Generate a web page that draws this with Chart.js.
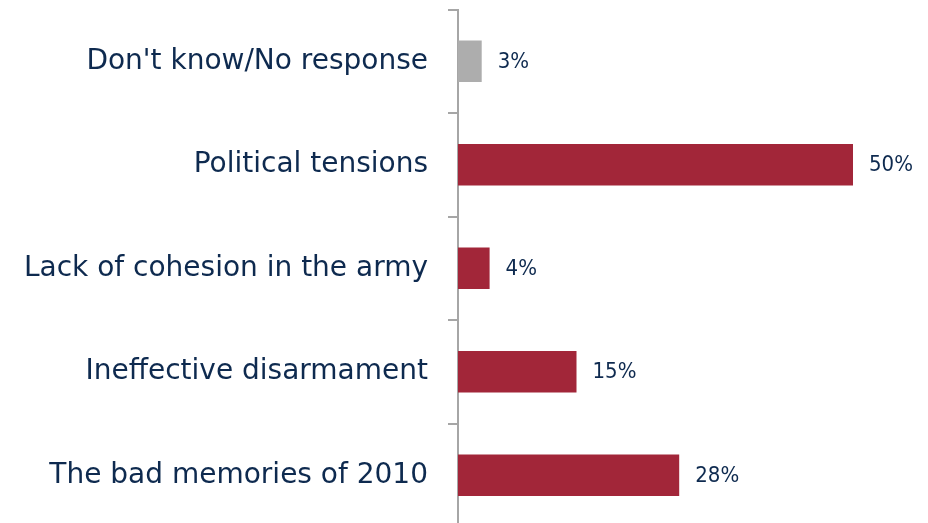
<!DOCTYPE html>
<html>
<head>
<meta charset="utf-8">
<script src="https://cdn.jsdelivr.net/npm/chart.js@4/dist/chart.umd.min.js"></script>
<style>
  html, body { margin: 0; padding: 0; background: #fff; overflow: hidden; }
  #wrap { position: relative; width: 928px; height: 527px; }
</style>
</head>
<body>
<div id="wrap"><canvas id="c"></canvas></div>
<script>
const categories = ["Don't know/No response", "Political tensions", "Lack of cohesion in the army", "Ineffective disarmament", "The bad memories of 2010"];
const values = [3, 50, 4, 15, 28];
const valueSuffix = "%";
const neutralCategory = "Don't know/No response";

const RED = '#A22639';
const GRAY = '#ADADAD';
const TEXT = '#0E2A4F';
const AXIS = '#A6A6A6';
const FONT = "'DejaVu Sans', sans-serif";
const VFONT = "'DejaVu Sans Condensed', 'DejaVu Sans', sans-serif";

const valueLabels = {
  id: 'valueLabels',
  afterDatasetsDraw(chart) {
    const ctx = chart.ctx;
    const meta = chart.getDatasetMeta(0);
    ctx.save();
    ctx.fillStyle = TEXT;
    ctx.font = "22px " + VFONT;
    ctx.textAlign = 'left';
    ctx.textBaseline = 'middle';
    meta.data.forEach((bar, i) => {
      ctx.fillText(values[i] + valueSuffix, bar.x + 16, bar.y + 1);
    });
    ctx.restore();
  }
};

new Chart(document.getElementById('c'), {
  type: 'bar',
  data: {
    labels: categories,
    datasets: [{
      data: values,
      backgroundColor: categories.map(c => c === neutralCategory ? GRAY : RED),
      borderWidth: 0,
      barPercentage: 0.4,
      categoryPercentage: 1.0
    }]
  },
  options: {
    indexAxis: 'y',
    responsive: true,
    maintainAspectRatio: false,
    animation: false,
    layout: { padding: { top: 9.5, right: 75, bottom: 0, left: 0 } },
    plugins: { legend: { display: false }, tooltip: { enabled: false } },
    scales: {
      x: { display: false, min: 0, max: 50 },
      y: {
        afterFit(scale) { scale.width = 458; scale.paddingTop = 0; scale.paddingBottom = 0; },
        border: { display: true, color: AXIS, width: 2 },
        grid: { offset: true, drawOnChartArea: false, drawTicks: true, tickLength: 10, color: AXIS, lineWidth: 2 },
        ticks: { color: TEXT, font: { size: 28, family: FONT }, padding: 20 }
      }
    }
  },
  plugins: [valueLabels]
});
</script>
</body>
</html>
